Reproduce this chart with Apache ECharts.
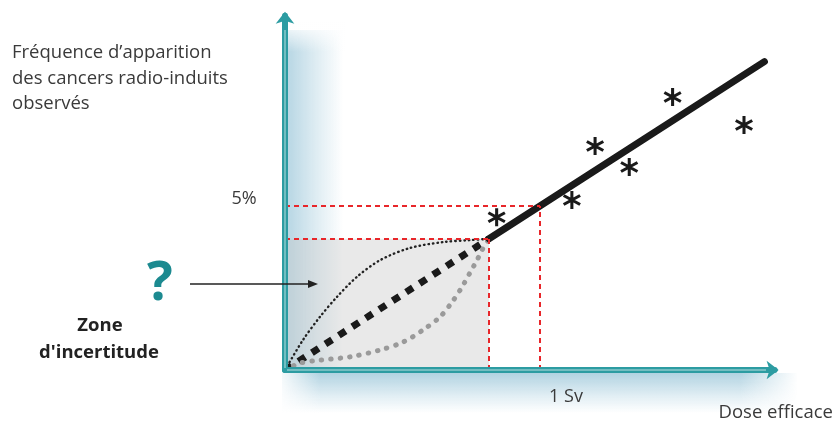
<!DOCTYPE html>
<html><head><meta charset="utf-8">
<script src="https://cdn.jsdelivr.net/npm/echarts@6/dist/echarts.min.js"></script>
<style>html,body{margin:0;padding:0;background:#fff}#c{width:833px;height:421px}</style>
</head><body><div id="c"></div>
<script>
// Dose (Sv) on x, frequency (%) on y
const xMax = 1.92, yMax = 10.8;
const linearZone = [[0, 0], [0.8, 4]];
const upperCurve = [[0, 0], [0.07, 0.91], [0.137, 1.62], [0.204, 2.23], [0.282, 2.84], [0.373, 3.35], [0.49, 3.72], [0.62, 3.9], [0.725, 3.96], [0.8, 4]];
const lowerCurve = [[0, 0], [0.059, 0.21], [0.137, 0.3], [0.255, 0.4], [0.373, 0.61], [0.463, 0.85], [0.541, 1.22], [0.608, 1.62], [0.655, 2.07], [0.694, 2.53], [0.725, 2.96], [0.753, 3.35], [0.773, 3.66], [0.8, 4]];
const observedLine = [[0.8, 4], [1.88, 9.4]];
const observations = [[0.83, 4.66], [1.125, 5.18], [1.216, 6.83], [1.35, 6.19], [1.52, 8.32], [1.8, 7.47]];
const doseRefs = [0.8, 1];
const freqRefs = [4, 5];
const yTitle = 'Fréquence d\u2019apparition\ndes cancers radio-induits\nobservés';
const xTitle = 'Dose efficace';
const doseTick = '1 Sv';
const freqTick = '5%';

const pxPerX = 255, pxPerY = 32.8, originX = 285, originY = 370;
const teal = '#2c9ca2';
const FONT = '"Open Sans", "Noto Sans", sans-serif';

const asterisk = 'path://M42 0L58 0L58 100L42 100Z M89.3 81.9L2.7 31.9L10.7 18.1L97.3 68.1Z M97.3 31.9L10.7 81.9L2.7 68.1L89.3 18.1Z';

const chart = echarts.init(document.getElementById('c'), null, {renderer: 'canvas'});
const guideLines = [
  [{coord: [0, freqRefs[0]]}, {coord: [doseRefs[0], freqRefs[0]]}],
  [{coord: [0, freqRefs[1]]}, {coord: [doseRefs[1], freqRefs[1]]}],
  [{coord: [doseRefs[0], 0]}, {coord: [doseRefs[0], freqRefs[0]]}],
  [{coord: [doseRefs[1], 0]}, {coord: [doseRefs[1], freqRefs[1]]}]
];
const LG = echarts.graphic.LinearGradient;
const glow = 'rgba(70,150,185,';

chart.setOption({
  animation: false,
  grid: {left: originX, top: originY - yMax * pxPerY, width: xMax * pxPerX, height: yMax * pxPerY},
  xAxis: {type: 'value', min: 0, max: xMax, z: 10,
    axisLine: {show: true, onZero: false, symbol: ['none', 'arrow'], symbolSize: [14, 12], symbolOffset: [0, 4],
      lineStyle: {color: teal, width: 6}},
    axisTick: {show: false}, axisLabel: {show: false}, splitLine: {show: false}},
  yAxis: {type: 'value', min: 0, max: yMax, z: 10,
    axisLine: {show: true, onZero: false, symbol: ['none', 'arrow'], symbolSize: [14, 12], symbolOffset: [-4, 4],
      lineStyle: {color: teal, width: 6}},
    axisTick: {show: false}, axisLabel: {show: false}, splitLine: {show: false}},
  graphic: [
    // glow right of y axis
    {type: 'rect', z: -10, shape: {x: 288, y: 30, width: 55, height: 340},
      style: {fill: new LG(0, 0, 1, 0, [{offset: 0, color: glow + '0.38)'}, {offset: 0.5, color: glow + '0.18)'}, {offset: 1, color: glow + '0)'}])}},
    {type: 'rect', z: -9, shape: {x: 286, y: 22, width: 60, height: 30},
      style: {fill: new LG(0, 0, 0, 1, [{offset: 0, color: 'rgba(255,255,255,1)'}, {offset: 1, color: 'rgba(255,255,255,0)'}])}},
    // glow under x axis
    {type: 'rect', z: -10, shape: {x: 282, y: 373, width: 515, height: 40},
      style: {fill: new LG(0, 0, 0, 1, [{offset: 0, color: glow + '0.42)'}, {offset: 0.6, color: glow + '0.15)'}, {offset: 1, color: glow + '0)'}])}},
    {type: 'rect', z: -9, shape: {x: 740, y: 373, width: 58, height: 40},
      style: {fill: new LG(0, 0, 1, 0, [{offset: 0, color: 'rgba(255,255,255,0)'}, {offset: 1, color: 'rgba(255,255,255,1)'}])}},
    {type: 'rect', z: -9, shape: {x: 280, y: 373, width: 40, height: 40},
      style: {fill: new LG(0, 0, 1, 0, [{offset: 0, color: 'rgba(255,255,255,0.9)'}, {offset: 1, color: 'rgba(255,255,255,0)'}])}},
    {type: 'line', z: 50, shape: {x1: 285, y1: 368, x2: 285, y2: 30}, style: {stroke: 'rgba(255,255,255,0.45)', lineWidth: 1.5}},
    {type: 'line', z: 50, shape: {x1: 287, y1: 370, x2: 766, y2: 370}, style: {stroke: 'rgba(255,255,255,0.45)', lineWidth: 1.5}},
    {type: 'text', z: 60, x: 12, y: 40, style: {text: yTitle, font: '18.5px ' + FONT, lineHeight: 25.5, fill: '#3a3a3a'}},
    {type: 'text', z: 60, x: 244, y: 199, style: {text: freqTick, font: '18px ' + FONT, fill: '#3a3a3a', align: 'center', verticalAlign: 'middle'}},
    {type: 'text', z: 60, x: 566, y: 397, style: {text: doseTick, font: '18px ' + FONT, fill: '#3a3a3a', align: 'center', verticalAlign: 'middle'}},
    {type: 'text', z: 60, x: 833, y: 413, style: {text: xTitle, font: '18.5px ' + FONT, fill: '#3a3a3a', align: 'right', verticalAlign: 'middle'}},
    {type: 'text', z: 60, x: 160, y: 285, style: {text: '?', font: 'bold 54px ' + FONT, fill: '#1c8a90', align: 'center', verticalAlign: 'middle'}},
    {type: 'text', z: 60, x: 100, y: 326, style: {text: 'Zone', font: 'bold 18.5px ' + FONT, fill: '#222', align: 'center', verticalAlign: 'middle'}},
    {type: 'text', z: 60, x: 99, y: 353, style: {text: 'd\'incertitude', font: 'bold 18.5px ' + FONT, fill: '#222', align: 'center', verticalAlign: 'middle'}},
    {type: 'line', z: 60, shape: {x1: 190, y1: 284, x2: 310, y2: 284}, style: {stroke: '#222', lineWidth: 1.6}},
    {type: 'polygon', z: 60, shape: {points: [[318, 284], [308, 280], [308, 288]]}, style: {fill: '#222'}}
  ],
  series: [
    {type: 'line', data: linearZone, symbol: 'none', z: 3,
      lineStyle: {color: '#1a1a1a', width: 7, type: [8, 8]},
      markArea: {silent: true, itemStyle: {color: 'rgba(200,200,200,0.4)'},
        data: [[{coord: [0, 0]}, {coord: [doseRefs[0], freqRefs[0]]}]]},
      markLine: {silent: true, symbol: 'none', label: {show: false},
        lineStyle: {color: '#e8262a', width: 2, type: [5, 4]}, data: guideLines}},
    {type: 'line', data: upperCurve, smooth: 0.3, symbol: 'none', z: 3,
      lineStyle: {color: '#222', width: 2.4, type: [0.5, 4], cap: 'round'}},
    {type: 'line', data: lowerCurve, smooth: 0.3, symbol: 'none', z: 3,
      lineStyle: {color: '#9a9a9a', width: 5, type: [0.5, 9], cap: 'round'}},
    {type: 'line', data: observedLine, symbol: 'none', z: 4,
      lineStyle: {color: '#1a1a1a', width: 7, cap: 'round'}},
    {type: 'scatter', data: observations, symbol: asterisk, symbolSize: 18, z: 5,
      itemStyle: {color: '#1a1a1a', opacity: 1}}
  ]
});
</script></body></html>
